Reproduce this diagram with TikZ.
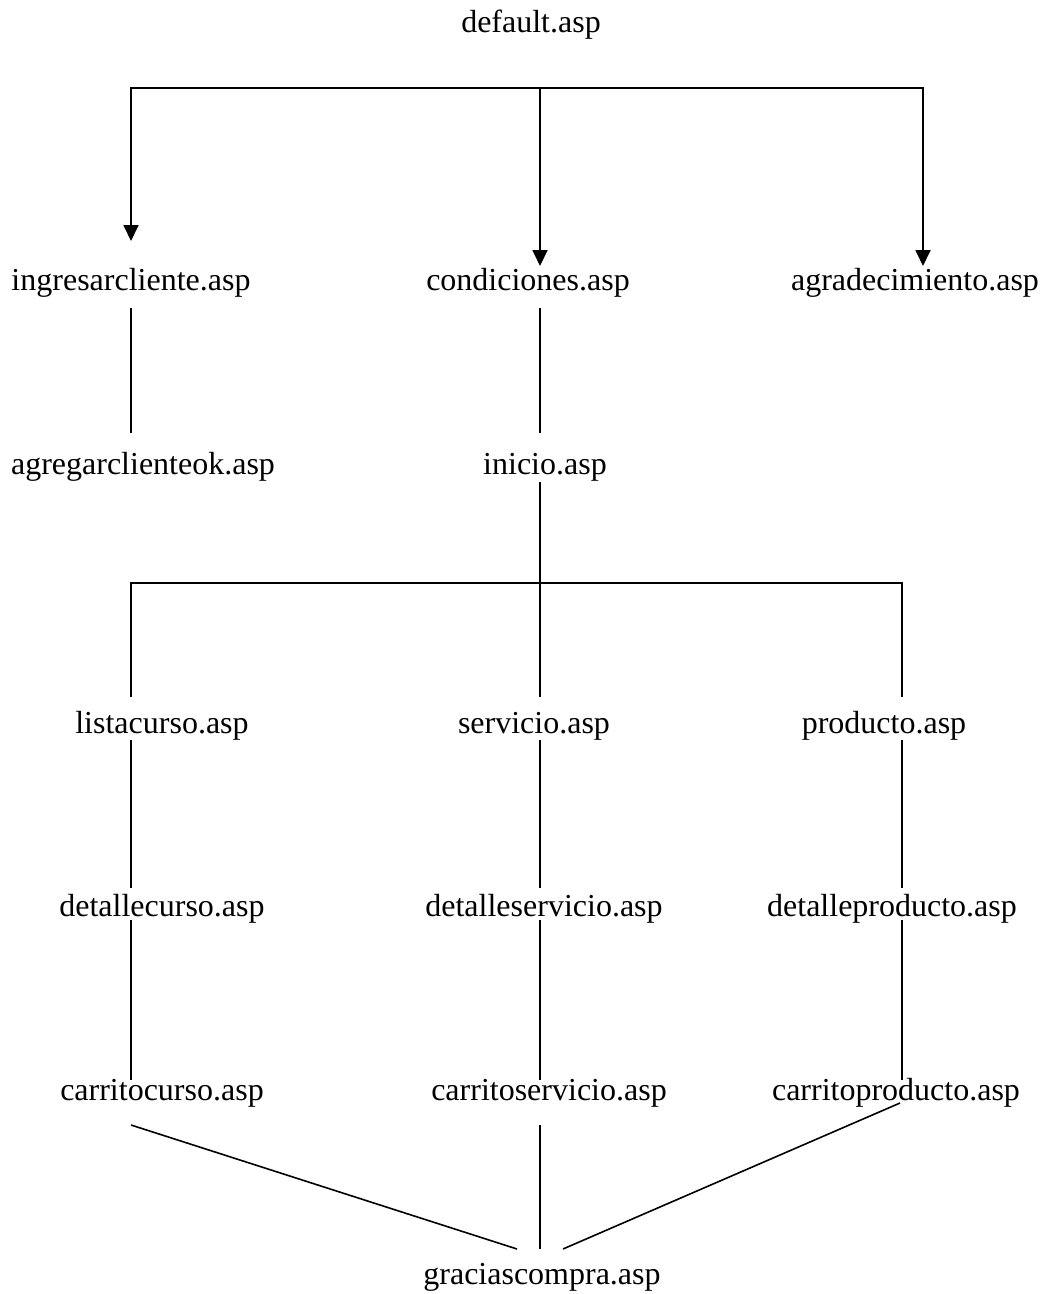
\documentclass[tikz,border=0pt]{standalone}
\usepackage{fontspec}
\setmainfont{Liberation Serif}
\usetikzlibrary{arrows.meta}
\tikzset{
  pg/.style={anchor=base, inner sep=0pt, font=\fontsize{32}{38}\selectfont},
  link/.style={line width=1.6pt, line cap=butt},
  bar/.style={line width=2pt, line cap=rect},
  arr/.style={line width=1.8pt, -{Triangle[length=16pt,width=15pt]}},
}
\begin{document}
\begin{tikzpicture}[x=1pt,y=-1pt]
\useasboundingbox (0,0) rectangle (1043,1294);
% pages
\node[pg] (def)  at (531,32)   {default.asp};
\node[pg] (ing)  at (131,290)  {ingresarcliente.asp};
\node[pg] (cond) at (528,290)  {condiciones.asp};
\node[pg] (agr)  at (915,290)  {agradecimiento.asp};
\node[pg] (agok) at (143,474)  {agregarclienteok.asp};
\node[pg] (ini)  at (545,474)  {inicio.asp};
\node[pg] (lc)   at (162,733)  {listacurso.asp};
\node[pg] (sv)   at (534,733)  {servicio.asp};
\node[pg] (pr)   at (884,733)  {producto.asp};
\node[pg] (dc)   at (162,916)  {detallecurso.asp};
\node[pg] (ds)   at (544,916)  {detalleservicio.asp};
\node[pg] (dp)   at (892,916)  {detalleproducto.asp};
\node[pg] (cc)   at (162,1100) {carritocurso.asp};
\node[pg] (cs)   at (549,1100) {carritoservicio.asp};
\node[pg] (cp)   at (896,1100) {carritoproducto.asp};
\node[pg] (gr)   at (542,1284) {graciascompra.asp};
% junction points and line ends
\coordinate (t1) at (131,88);
\coordinate (t2) at (540,88);
\coordinate (t3) at (923,88);
\coordinate (ing-in)  at (131,241);
\coordinate (cond-in) at (540,266);
\coordinate (agr-in)  at (923,266);
\coordinate (ing-out)  at (131,308);
\coordinate (agok-in)  at (131,433);
\coordinate (cond-out) at (540,308);
\coordinate (ini-in)   at (540,433);
\coordinate (ini-out)  at (540,482);
\coordinate (m1) at (131,583);
\coordinate (m2) at (540,583);
\coordinate (m3) at (902,583);
\coordinate (lc-in) at (131,697);
\coordinate (sv-in) at (540,697);
\coordinate (pr-in) at (902,697);
\coordinate (lc-out) at (131,740);
\coordinate (sv-out) at (540,740);
\coordinate (pr-out) at (902,740);
\coordinate (dc-in) at (131,888);
\coordinate (ds-in) at (540,888);
\coordinate (dp-in) at (902,888);
\coordinate (dc-out) at (131,920);
\coordinate (ds-out) at (540,920);
\coordinate (dp-out) at (902,920);
\coordinate (cc-in) at (131,1080);
\coordinate (cs-in) at (540,1080);
\coordinate (cp-in) at (902,1080);
\coordinate (cc-out) at (131,1125);
\coordinate (cs-out) at (540,1125);
\coordinate (cp-out) at (900,1103);
\coordinate (gr-l) at (517,1249);
\coordinate (gr-m) at (540,1249);
\coordinate (gr-r) at (563,1249);
% connectors
\draw[bar] (t1) -- (t3);
\draw[arr] (t1) -- (ing-in);
\draw[arr] (t2) -- (cond-in);
\draw[arr] (t3) -- (agr-in);
\draw[link] (ing-out) -- (agok-in);
\draw[link] (cond-out) -- (ini-in);
\draw[link] (ini-out) -- (m2);
\draw[bar] (m1) -- (m3);
\draw[link] (m1) -- (lc-in);
\draw[link] (m2) -- (sv-in);
\draw[link] (m3) -- (pr-in);
\draw[link] (lc-out) -- (dc-in);
\draw[link] (sv-out) -- (ds-in);
\draw[link] (pr-out) -- (dp-in);
\draw[link] (dc-out) -- (cc-in);
\draw[link] (ds-out) -- (cs-in);
\draw[link] (dp-out) -- (cp-in);
\draw[link] (cc-out) -- (gr-l);
\draw[link] (cs-out) -- (gr-m);
\draw[link] (cp-out) -- (gr-r);
\end{tikzpicture}
\end{document}
